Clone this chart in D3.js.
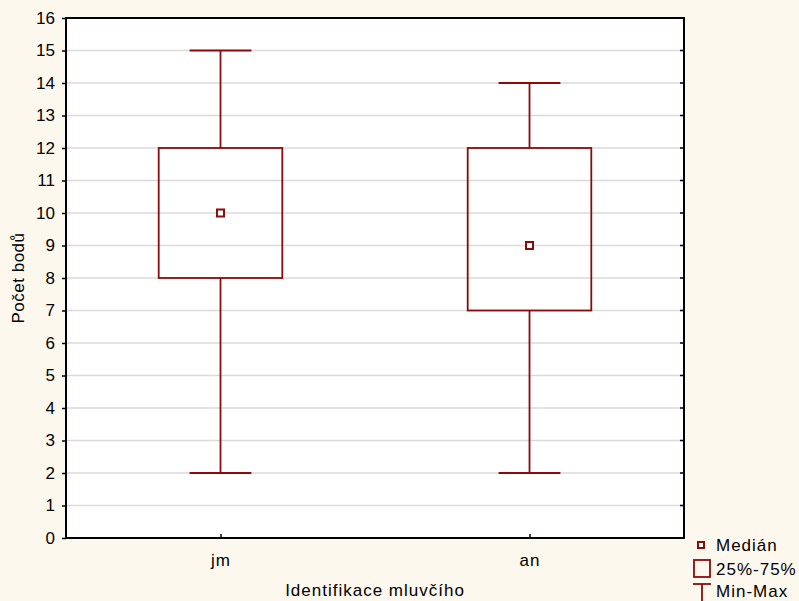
<!DOCTYPE html>
<html>
<head>
<meta charset="utf-8">
<script src="https://cdn.jsdelivr.net/npm/d3@7"></script>
<style>
  body { margin: 0; background: #fdf8ee; }
  svg { display: block; font-family: "Liberation Sans", Arial, sans-serif; }
</style>
</head>
<body>
<svg id="chart" width="799" height="601"></svg>
<script>
const groups = ["jm", "an"];
const minVals = [2, 2];
const q1Vals = [8, 7];
const medianVals = [10, 9];
const q3Vals = [12, 12];
const maxVals = [15, 14];
const yTicks = d3.range(0, 17);

const svg = d3.select("svg#chart");
const color = "#8b0a0a";
const fontSize = 17;

const plotLeft = 66, plotRight = 684, plotTop = 18, plotBottom = 538;

const x = d3.scalePoint().domain(groups).range([plotLeft, plotRight]).padding(0.5);
const y = d3.scaleLinear().domain([0, 16]).range([plotBottom, plotTop]);

const boxW = (plotRight - plotLeft) * 0.2;
const capW = boxW / 2;

// plot background
svg.append("rect")
    .attr("x", plotLeft).attr("y", plotTop)
    .attr("width", plotRight - plotLeft).attr("height", plotBottom - plotTop)
    .attr("fill", "#ffffff");

// grid
svg.append("g").selectAll("line")
    .data(yTicks.filter(d => d > 0 && d < 16))
    .enter().append("line")
    .attr("x1", plotLeft).attr("x2", plotRight)
    .attr("y1", d => y(d)).attr("y2", d => y(d))
    .attr("stroke", "#dadada").attr("stroke-width", 1.5);

// boxes
const data = groups.map((g, i) => ({
    g, min: minVals[i], q1: q1Vals[i], med: medianVals[i], q3: q3Vals[i], max: maxVals[i]
}));

const box = svg.append("g").selectAll("g").data(data).enter().append("g")
    .attr("stroke", color).attr("stroke-width", 1.8);

box.append("line")
    .attr("x1", d => x(d.g)).attr("x2", d => x(d.g))
    .attr("y1", d => y(d.max)).attr("y2", d => y(d.q3));
box.append("line")
    .attr("x1", d => x(d.g)).attr("x2", d => x(d.g))
    .attr("y1", d => y(d.q1)).attr("y2", d => y(d.min));
box.append("line")
    .attr("x1", d => x(d.g) - capW / 2).attr("x2", d => x(d.g) + capW / 2)
    .attr("y1", d => y(d.max)).attr("y2", d => y(d.max));
box.append("line")
    .attr("x1", d => x(d.g) - capW / 2).attr("x2", d => x(d.g) + capW / 2)
    .attr("y1", d => y(d.min)).attr("y2", d => y(d.min));
box.append("rect")
    .attr("x", d => x(d.g) - boxW / 2).attr("width", boxW)
    .attr("y", d => y(d.q3)).attr("height", d => y(d.q1) - y(d.q3))
    .attr("fill", "none");
box.append("rect")
    .attr("x", d => x(d.g) - 3.5).attr("y", d => y(d.med) - 3.5)
    .attr("width", 7).attr("height", 7)
    .attr("fill", "#fff").attr("stroke-width", 2);

// frame
svg.append("rect")
    .attr("x", plotLeft).attr("y", plotTop)
    .attr("width", plotRight - plotLeft).attr("height", plotBottom - plotTop)
    .attr("fill", "none").attr("stroke", "#000").attr("stroke-width", 2);

// left axis
const yAxis = svg.append("g")
    .attr("transform", `translate(${plotLeft},0)`)
    .call(d3.axisLeft(y).tickValues(yTicks).tickSize(4).tickPadding(7).tickFormat(d3.format("d")));
yAxis.select(".domain").remove();
yAxis.selectAll("line").attr("stroke", "#000").attr("stroke-width", 1.5);
yAxis.selectAll("text").attr("font-size", fontSize).attr("fill", "#000")
    .attr("font-family", "Liberation Sans, Arial, sans-serif");

// right inner ticks
svg.append("g").selectAll("line")
    .data(yTicks.filter(d => d > 0 && d < 16))
    .enter().append("line")
    .attr("x1", plotRight - 4).attr("x2", plotRight)
    .attr("y1", d => y(d)).attr("y2", d => y(d))
    .attr("stroke", "#000").attr("stroke-width", 1.5);

// bottom axis
const xAxis = svg.append("g")
    .attr("transform", `translate(0,${plotBottom})`)
    .call(d3.axisBottom(x).tickSize(-4).tickPadding(16));
xAxis.select(".domain").remove();
xAxis.selectAll("line").attr("stroke", "#000").attr("stroke-width", 1.5);
xAxis.selectAll("text").attr("font-size", fontSize).attr("fill", "#000")
    .attr("letter-spacing", 1)
    .attr("font-family", "Liberation Sans, Arial, sans-serif");

// axis titles
svg.append("text")
    .attr("x", (plotLeft + plotRight) / 2).attr("y", 596)
    .attr("text-anchor", "middle").attr("font-size", fontSize)
    .attr("letter-spacing", 1)
    .text("Identifikace mluvčího");
svg.append("text")
    .attr("transform", `translate(24,${(plotTop + plotBottom) / 2}) rotate(-90)`)
    .attr("text-anchor", "middle").attr("font-size", fontSize)
    .attr("letter-spacing", 0.5)
    .text("Počet bodů");

// legend
const lg = svg.append("g").attr("font-size", fontSize).attr("letter-spacing", 1);
lg.append("rect").attr("x", 698).attr("y", 542).attr("width", 6).attr("height", 6)
    .attr("fill", "#fff").attr("stroke", color).attr("stroke-width", 2);
lg.append("text").attr("x", 716).attr("y", 551).text("Medián");
lg.append("rect").attr("x", 694).attr("y", 560).attr("width", 16).attr("height", 17)
    .attr("fill", "none").attr("stroke", color).attr("stroke-width", 1.8);
lg.append("text").attr("x", 716).attr("y", 575).text("25%-75%");
lg.append("line").attr("x1", 693).attr("x2", 711).attr("y1", 584).attr("y2", 584)
    .attr("stroke", color).attr("stroke-width", 1.8);
lg.append("line").attr("x1", 702).attr("x2", 702).attr("y1", 584).attr("y2", 601)
    .attr("stroke", color).attr("stroke-width", 1.8);
lg.append("text").attr("x", 716).attr("y", 597).text("Min-Max");
</script>
</body>
</html>
